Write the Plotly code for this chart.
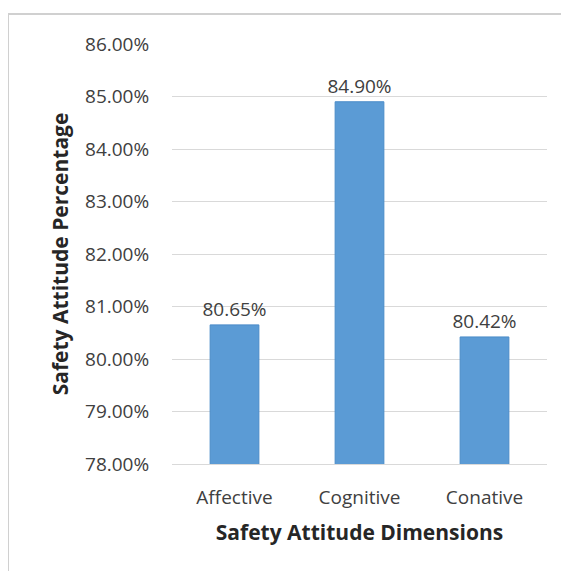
import plotly.graph_objects as go

categories = ["Affective", "Cognitive", "Conative"]
values = [0.8065, 0.8490, 0.8042]
y_ticks = [0.78, 0.79, 0.80, 0.81, 0.82, 0.83, 0.84, 0.85, 0.86]

OFF = 8  # page body margin
W, H = 569 - OFF, 571 - OFF
L, R, T, B = 172 - OFF, 22, 44 - OFF, 107
pw, ph = W - L - R, H - T - B

def px_to_paper_x(px):
    return (px - OFF - L) / pw

def px_to_paper_y(py):
    return 1 - (py - OFF - T) / ph

fig = go.Figure()
fig.add_trace(go.Bar(
    x=categories, y=values, width=0.39,
    marker=dict(color="#5b9bd5", line=dict(color="#4a8bc8", width=1)),
    texttemplate="%{y:.2%}", textposition="outside", constraintext="none",
    textfont=dict(family="Open Sans", size=19, color="#404040"),
    cliponaxis=False,
))

fig.update_layout(
    width=W, height=H,
    margin=dict(l=L, r=R, t=T, b=B),
    paper_bgcolor="white", plot_bgcolor="white",
    showlegend=False,
    font=dict(family="Open Sans", color="#404040"),
    xaxis=dict(
        showgrid=False, showline=True, linecolor="#d9d9d9", linewidth=1,
        ticks="outside", ticklen=16, tickcolor="rgba(0,0,0,0)",
        tickfont=dict(family="Open Sans", size=19, color="#404040"),
        title=dict(text="<b>Safety Attitude Dimensions</b>", standoff=16,
                   font=dict(family="Open Sans", size=21, color="#262626")),
    ),
    yaxis=dict(
        range=[0.78, 0.86], tickvals=y_ticks, tickformat=".2%",
        showgrid=True, gridcolor="#d9d9d9", gridwidth=1,
        zeroline=False, showline=False,
        ticks="outside", ticklen=18, tickcolor="rgba(0,0,0,0)",
        tickfont=dict(family="Open Sans", size=19, color="#404040"),
        title=dict(text="<b>Safety Attitude Percentage</b>", standoff=10,
                   font=dict(family="Open Sans", size=21, color="#262626")),
    ),
    shapes=[
        dict(type="line", xref="paper", yref="paper",
             x0=px_to_paper_x(8), x1=px_to_paper_x(8),
             y0=px_to_paper_y(14), y1=px_to_paper_y(571),
             line=dict(color="#d0d0d0", width=2)),
        dict(type="line", xref="paper", yref="paper",
             x0=px_to_paper_x(8), x1=px_to_paper_x(569),
             y0=px_to_paper_y(14), y1=px_to_paper_y(14),
             line=dict(color="#d0d0d0", width=2)),
    ],
)

fig.write_html("out.html")
